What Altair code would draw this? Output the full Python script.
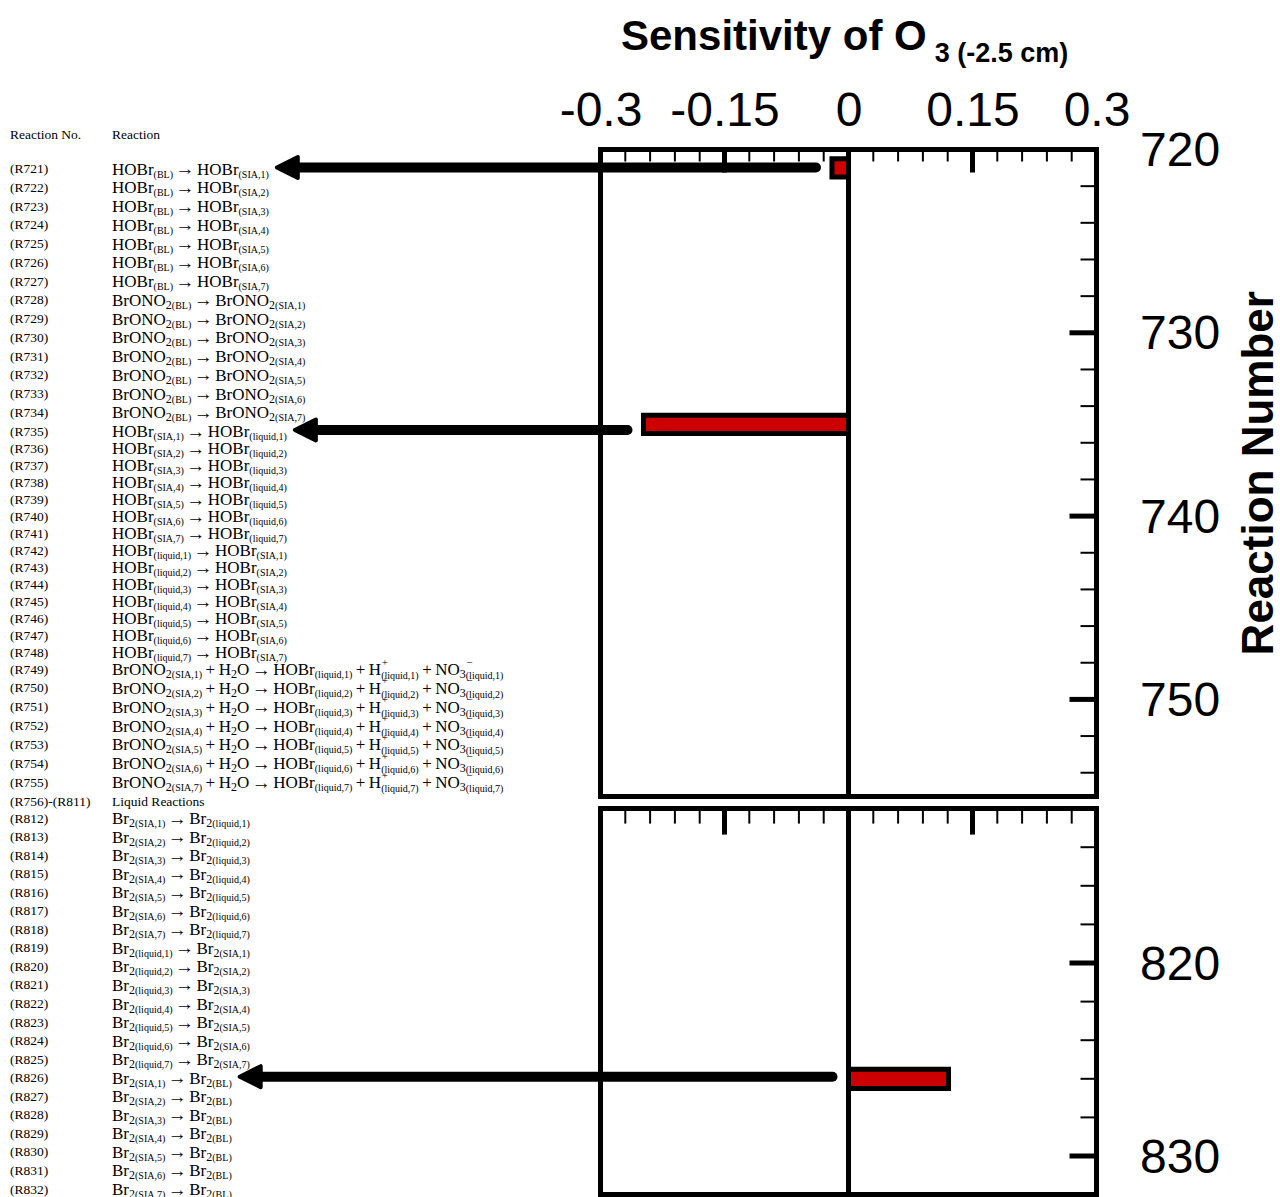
import re
import altair as alt
import pandas as pd

# ---------------- chart values ----------------
reaction_ids = [
    "(R721)", "(R722)", "(R723)", "(R724)", "(R725)", "(R726)", "(R727)",
    "(R728)", "(R729)", "(R730)", "(R731)", "(R732)", "(R733)", "(R734)",
    "(R735)", "(R736)", "(R737)", "(R738)", "(R739)", "(R740)", "(R741)",
    "(R742)", "(R743)", "(R744)", "(R745)", "(R746)", "(R747)", "(R748)",
    "(R749)", "(R750)", "(R751)", "(R752)", "(R753)", "(R754)", "(R755)",
    "(R756)-(R811)",
    "(R812)", "(R813)", "(R814)", "(R815)", "(R816)", "(R817)", "(R818)",
    "(R819)", "(R820)", "(R821)", "(R822)", "(R823)", "(R824)", "(R825)",
    "(R826)", "(R827)", "(R828)", "(R829)", "(R830)", "(R831)", "(R832)",
]
reactions = [
    "HOBr_{(BL)} -> HOBr_{(SIA,1)}",
    "HOBr_{(BL)} -> HOBr_{(SIA,2)}",
    "HOBr_{(BL)} -> HOBr_{(SIA,3)}",
    "HOBr_{(BL)} -> HOBr_{(SIA,4)}",
    "HOBr_{(BL)} -> HOBr_{(SIA,5)}",
    "HOBr_{(BL)} -> HOBr_{(SIA,6)}",
    "HOBr_{(BL)} -> HOBr_{(SIA,7)}",
    "BrONO_{2(BL)} -> BrONO_{2(SIA,1)}",
    "BrONO_{2(BL)} -> BrONO_{2(SIA,2)}",
    "BrONO_{2(BL)} -> BrONO_{2(SIA,3)}",
    "BrONO_{2(BL)} -> BrONO_{2(SIA,4)}",
    "BrONO_{2(BL)} -> BrONO_{2(SIA,5)}",
    "BrONO_{2(BL)} -> BrONO_{2(SIA,6)}",
    "BrONO_{2(BL)} -> BrONO_{2(SIA,7)}",
    "HOBr_{(SIA,1)} -> HOBr_{(liquid,1)}",
    "HOBr_{(SIA,2)} -> HOBr_{(liquid,2)}",
    "HOBr_{(SIA,3)} -> HOBr_{(liquid,3)}",
    "HOBr_{(SIA,4)} -> HOBr_{(liquid,4)}",
    "HOBr_{(SIA,5)} -> HOBr_{(liquid,5)}",
    "HOBr_{(SIA,6)} -> HOBr_{(liquid,6)}",
    "HOBr_{(SIA,7)} -> HOBr_{(liquid,7)}",
    "HOBr_{(liquid,1)} -> HOBr_{(SIA,1)}",
    "HOBr_{(liquid,2)} -> HOBr_{(SIA,2)}",
    "HOBr_{(liquid,3)} -> HOBr_{(SIA,3)}",
    "HOBr_{(liquid,4)} -> HOBr_{(SIA,4)}",
    "HOBr_{(liquid,5)} -> HOBr_{(SIA,5)}",
    "HOBr_{(liquid,6)} -> HOBr_{(SIA,6)}",
    "HOBr_{(liquid,7)} -> HOBr_{(SIA,7)}",
    "BrONO_{2(SIA,1)} + H_{2}O -> HOBr_{(liquid,1)} + H^{+}_{(liquid,1)} + NO_{3}^{-}_{(liquid,1)}",
    "BrONO_{2(SIA,2)} + H_{2}O -> HOBr_{(liquid,2)} + H^{+}_{(liquid,2)} + NO_{3}^{-}_{(liquid,2)}",
    "BrONO_{2(SIA,3)} + H_{2}O -> HOBr_{(liquid,3)} + H^{+}_{(liquid,3)} + NO_{3}^{-}_{(liquid,3)}",
    "BrONO_{2(SIA,4)} + H_{2}O -> HOBr_{(liquid,4)} + H^{+}_{(liquid,4)} + NO_{3}^{-}_{(liquid,4)}",
    "BrONO_{2(SIA,5)} + H_{2}O -> HOBr_{(liquid,5)} + H^{+}_{(liquid,5)} + NO_{3}^{-}_{(liquid,5)}",
    "BrONO_{2(SIA,6)} + H_{2}O -> HOBr_{(liquid,6)} + H^{+}_{(liquid,6)} + NO_{3}^{-}_{(liquid,6)}",
    "BrONO_{2(SIA,7)} + H_{2}O -> HOBr_{(liquid,7)} + H^{+}_{(liquid,7)} + NO_{3}^{-}_{(liquid,7)}",
    "Liquid Reactions",
    "Br_{2(SIA,1)} -> Br_{2(liquid,1)}",
    "Br_{2(SIA,2)} -> Br_{2(liquid,2)}",
    "Br_{2(SIA,3)} -> Br_{2(liquid,3)}",
    "Br_{2(SIA,4)} -> Br_{2(liquid,4)}",
    "Br_{2(SIA,5)} -> Br_{2(liquid,5)}",
    "Br_{2(SIA,6)} -> Br_{2(liquid,6)}",
    "Br_{2(SIA,7)} -> Br_{2(liquid,7)}",
    "Br_{2(liquid,1)} -> Br_{2(SIA,1)}",
    "Br_{2(liquid,2)} -> Br_{2(SIA,2)}",
    "Br_{2(liquid,3)} -> Br_{2(SIA,3)}",
    "Br_{2(liquid,4)} -> Br_{2(SIA,4)}",
    "Br_{2(liquid,5)} -> Br_{2(SIA,5)}",
    "Br_{2(liquid,6)} -> Br_{2(SIA,6)}",
    "Br_{2(liquid,7)} -> Br_{2(SIA,7)}",
    "Br_{2(SIA,1)} -> Br_{2(BL)}",
    "Br_{2(SIA,2)} -> Br_{2(BL)}",
    "Br_{2(SIA,3)} -> Br_{2(BL)}",
    "Br_{2(SIA,4)} -> Br_{2(BL)}",
    "Br_{2(SIA,5)} -> Br_{2(BL)}",
    "Br_{2(SIA,6)} -> Br_{2(BL)}",
    "Br_{2(SIA,7)} -> Br_{2(BL)}",
]
header_texts = ["Reaction No.", "Reaction"]

bar_reaction = [721, 735, 826]
bar_value = [-0.02, -0.248, 0.121]

x_label_values = [-0.3, -0.15, 0, 0.15, 0.3]
x_major_ticks = [-0.15, 0.15]
x_minor_ticks = [-0.27, -0.24, -0.21, -0.18, -0.12, -0.09, -0.06, -0.03,
                 0.03, 0.06, 0.09, 0.12, 0.18, 0.21, 0.24, 0.27]

top_extent = [720, 755.3]
bottom_extent = [812, 832]
top_label_values = [720, 730, 740, 750]
bottom_label_values = [820, 830]
top_major_y = [730, 740, 750]
top_minor_y = [722, 724, 726, 728, 732, 734, 736, 738, 742, 744, 746, 748, 752, 754]
bottom_major_y = [820, 830]
bottom_minor_y = [814, 816, 818, 822, 824, 826, 828]

title_main = "Sensitivity of O"
title_sub = "3 (-2.5 cm)"
y_title = "Reaction Number"

# ---------------- layout / style ----------------
W, H = 1280, 1197
PX_X = [600.5, 1096.5]            # pixel range for x = -0.3 .. 0.3
PX_TOP = [149.5, 699.4]           # pixel range for 720 .. 750
PX_BOT = [963, 1156]              # pixel range for 820 .. 830
ROW_KNOTS = [-2, 0, 14, 28, 34, 35, 36, 56]
ROW_PX = [133, 167.5, 430, 668, 781, 800, 817, 1188]
PPU = (PX_X[1] - PX_X[0]) / (x_label_values[-1] - x_label_values[0])

X_SCALE = alt.Scale(domain=[x_label_values[0], x_label_values[-1]], range=PX_X, nice=False, zero=False)
Y_TOP = alt.Scale(domain=[720, 750], range=PX_TOP, nice=False, zero=False)
Y_BOT = alt.Scale(domain=[820, 830], range=PX_BOT, nice=False, zero=False)
Y_ROW = alt.Scale(domain=ROW_KNOTS, range=ROW_PX, nice=False, zero=False)

SERIF = "Liberation Serif"
SANS = "Liberation Sans"
RED = "#cc0000"

def px_to_x(px):
    return x_label_values[0] + (px - PX_X[0]) / PPU

# Times-like advance widths (per 1000 em)
CW = {' ': 250, '(': 333, ')': 333, ',': 250, '-': 333, '.': 250,
      'A': 722, 'B': 667, 'C': 667, 'D': 722, 'E': 611, 'H': 722, 'I': 333,
      'L': 611, 'N': 722, 'O': 722, 'R': 667, 'S': 556,
      'a': 444, 'c': 444, 'd': 500, 'e': 444, 'i': 278, 'l': 278, 'n': 500,
      'o': 500, 'q': 500, 'r': 333, 's': 389, 't': 278, 'u': 500,
      '+': 564, '\u2212': 564, '\u2192': 1000}

def tw(s, size):
    return sum(CW.get(c, 500) for c in s) * size / 1000.0

SZ = {"main": 17, "arrow": 19, "subd": 12, "subs": 10, "sup": 11, "subq": 10, "label": 13.5}
DY = {"main": 7, "arrow": 7.5, "subd": 10, "subs": 10, "sup": -2.5, "subq": 11, "label": 5.5}
GAP = 3.5
AGAP = 2.5
COL1, COL2 = 10, 112

TOK = re.compile(r"_\{([^}]*)\}|\^\{([^}]*)\}|( -> )|( \+ )|([^_^ ]+)")

def layout(expr, x0):
    segs = []
    x = x0
    pending = None
    for m in TOK.finditer(expr):
        sub, sup, arrow, plus, word = m.groups()
        if sub is not None:
            digits = re.match(r"\d*", sub).group(0)
            rest = sub[len(digits):]
            if pending is not None:
                segs.append(("subq", sub, x))
                x += max(tw(sub, SZ["subq"]), pending)
                pending = None
            else:
                if digits:
                    segs.append(("subd", digits, x))
                    x += tw(digits, SZ["subd"])
                if rest:
                    segs.append(("subs", rest, x))
                    x += tw(rest, SZ["subs"])
        elif sup is not None:
            s = sup.replace("-", "\u2212")
            segs.append(("sup", s, x + 0.5))
            pending = tw(s, SZ["sup"])
        elif arrow is not None:
            x += AGAP
            segs.append(("arrow", "\u2192", x))
            x += tw("\u2192", SZ["arrow"]) + AGAP
        elif plus is not None:
            x += GAP
            segs.append(("main", "+", x))
            x += tw("+", SZ["main"]) + GAP
        else:
            segs.append(("main", word, x))
            x += tw(word, SZ["main"])
    return segs, x

rows = []
row_end = {}
rows.append(dict(kind="label", text=header_texts[0], x=COL1, row=-2))
rows.append(dict(kind="label", text=header_texts[1], x=COL2, row=-2))
for i, (rid, rx) in enumerate(zip(reaction_ids, reactions)):
    rows.append(dict(kind="label", text=rid, x=COL1, row=i))
    if "->" in rx:
        segs, xend = layout(rx, COL2)
        for kind, t, xx in segs:
            rows.append(dict(kind=kind, text=t, x=xx, row=i))
        row_end[rid] = xend
    else:
        rows.append(dict(kind="label", text=rx, x=COL2, row=i))
seg_df = pd.DataFrame(rows)
seg_df["xd"] = seg_df["x"].apply(px_to_x)

def text_layer(kind):
    d = seg_df[seg_df["kind"] == kind][["xd", "row", "text"]]
    return alt.Chart(d).mark_text(
        font=SERIF, fontSize=SZ[kind], dy=DY[kind], align="left",
        baseline="alphabetic", color="black"
    ).encode(
        x=alt.X("xd:Q", scale=X_SCALE, axis=None),
        y=alt.Y("row:Q", scale=Y_ROW, axis=None),
        text="text:N",
    )

text_layers = [text_layer(k) for k in ["label", "main", "arrow", "subd", "subs", "sup", "subq"]]

# ---------------- panels ----------------
def panel_layers(extent, yscale, label_values, major_y, minor_y, top_minor_len, top_major_len, show_x_labels):
    frame_df = pd.DataFrame({"x0": [x_label_values[0]], "x1": [x_label_values[-1]],
                             "y0": [extent[0]], "y1": [extent[1]]})
    yaxis = alt.Axis(orient="right", offset=-(W - PX_X[1]), values=label_values,
                     labelFont=SANS, labelFontSize=48, labelColor="black",
                     labelPadding=43, labelAlign="left", labelBaseline="middle", labelOffset=2,
                     labelFlush=False, labelOverlap=False,
                     domain=False, ticks=False, tickSize=0, grid=False, title=None)
    if show_x_labels:
        xaxis = alt.Axis(orient="top", offset=-PX_TOP[0], values=x_label_values,
                         labelExpr="toString(datum.value)", labelFont=SANS,
                         labelFontSize=48, labelColor="black", labelPadding=24,
                         labelBaseline="alphabetic", labelFlush=False, labelOverlap=False,
                         domain=False, ticks=False, tickSize=0, grid=False, title=None)
        xenc = alt.X("x0:Q", scale=X_SCALE, axis=xaxis)
    else:
        xenc = alt.X("x0:Q", scale=X_SCALE, axis=None)
    frame = alt.Chart(frame_df).mark_rect(
        fillOpacity=0, stroke="black", strokeWidth=5
    ).encode(
        x=xenc, x2="x1:Q",
        y=alt.Y("y0:Q", scale=yscale, axis=yaxis), y2="y1:Q",
    )
    zero = alt.Chart(frame_df).mark_rule(color="black", strokeWidth=5).transform_calculate(
        z="0"
    ).encode(
        x=alt.X("z:Q", scale=X_SCALE, axis=None),
        y=alt.Y("y0:Q", scale=yscale, axis=None), y2="y1:Q",
    )

    def xticks(vals, length, width):
        d = pd.DataFrame({"x": vals, "y": [extent[0]] * len(vals)})
        return alt.Chart(d).mark_rule(color="black", strokeWidth=width, y2Offset=length).encode(
            x=alt.X("x:Q", scale=X_SCALE, axis=None),
            y=alt.Y("y:Q", scale=yscale, axis=None), y2="y:Q",
        )

    def yticks(vals, length, width):
        d = pd.DataFrame({"y": vals, "x": [x_label_values[-1]] * len(vals)})
        return alt.Chart(d).mark_rule(color="black", strokeWidth=width, x2Offset=-length).encode(
            x=alt.X("x:Q", scale=X_SCALE, axis=None), x2="x:Q",
            y=alt.Y("y:Q", scale=yscale, axis=None),
        )

    return [
        xticks(x_minor_ticks, top_minor_len, 2),
        xticks(x_major_ticks, top_major_len, 5),
        yticks(minor_y, 16, 2),
        yticks(major_y, 27, 5),
        zero,
        frame,
    ]

top_layers = panel_layers(top_extent, Y_TOP, top_label_values, top_major_y, top_minor_y, 12, 23, True)
bot_layers = panel_layers(bottom_extent, Y_BOT, bottom_label_values, bottom_major_y, bottom_minor_y, 15, 26, False)

bars_df = pd.DataFrame({"reaction": bar_reaction, "value": bar_value})

def bar_layer(yscale, lo, hi):
    return alt.Chart(bars_df).transform_filter(
        (alt.datum.reaction >= lo) & (alt.datum.reaction <= hi)
    ).transform_calculate(
        y0="datum.reaction - 0.5", y1="datum.reaction + 0.5", z="0"
    ).mark_rect(fill=RED, stroke="black", strokeWidth=5).encode(
        x=alt.X("value:Q", scale=X_SCALE, axis=None), x2="z:Q",
        y=alt.Y("y0:Q", scale=yscale, axis=None), y2="y1:Q",
    )

bars_top = bar_layer(Y_TOP, top_extent[0], top_extent[1])
bars_bot = bar_layer(Y_BOT, bottom_extent[0], bottom_extent[1])

# ---------------- arrows (bar -> table row) ----------------
arr = []
for r, v in zip(bar_reaction, bar_value):
    rid = "(R%d)" % r
    i = reaction_ids.index(rid)
    tip_px = row_end[rid] + 6
    start = min(v, 0) - 16 / PPU
    arr.append(dict(row=i,
                    head=px_to_x(tip_px + 12.5),
                    s0=px_to_x(tip_px + 18),
                    s1=start))
arr_df = pd.DataFrame(arr)

shafts = alt.Chart(arr_df).mark_rule(color="black", strokeWidth=10, strokeCap="round").encode(
    x=alt.X("s0:Q", scale=X_SCALE, axis=None), x2="s1:Q",
    y=alt.Y("row:Q", scale=Y_ROW, axis=None),
)
heads = alt.Chart(arr_df).mark_point(
    shape="M-1,0L1,-1L1,1Z", size=441, filled=True, fill="black", stroke="black",
    strokeWidth=4, strokeJoin="round", opacity=1
).encode(
    x=alt.X("head:Q", scale=X_SCALE, axis=None),
    y=alt.Y("row:Q", scale=Y_ROW, axis=None),
)

# ---------------- titles ----------------
HB = {'S': 667, 'e': 556, 'n': 611, 's': 556, 'i': 278, 't': 333, 'v': 556,
      'y': 556, ' ': 278, 'o': 611, 'f': 333, 'O': 778}
T_SIZE = 42
t_width = sum(HB.get(c, 556) for c in title_main) * T_SIZE / 1000.0
title_df = pd.DataFrame({"t": [title_main]})
sub_df = pd.DataFrame({"t": [title_sub]})
ytitle_df = pd.DataFrame({"t": [y_title]})

title1 = alt.Chart(title_df).mark_text(
    font=SANS, fontSize=T_SIZE, fontWeight="bold", align="left", baseline="alphabetic", color="black"
).encode(x=alt.value(621), y=alt.value(50), text="t:N")
title2 = alt.Chart(sub_df).mark_text(
    font=SANS, fontSize=27, fontWeight="bold", align="left", baseline="alphabetic", color="black"
).encode(x=alt.value(621 + t_width + 8), y=alt.value(62), text="t:N")
title3 = alt.Chart(ytitle_df).mark_text(
    font=SANS, fontSize=44, fontWeight="bold", align="center", baseline="alphabetic",
    angle=270, color="black"
).encode(x=alt.value(1273), y=alt.value((PX_TOP[0] + 797) / 2), text="t:N")

layers = top_layers + bot_layers + [bars_top, bars_bot, shafts, heads] + text_layers + [title1, title2, title3]

chart = alt.layer(*layers).resolve_scale(
    x="independent", y="independent"
).properties(
    width=W, height=H, padding=0, background="white",
    autosize=alt.AutoSizeParams(type="none"),
).configure_view(strokeWidth=0)

chart.save("out.html", embed_options={"renderer": "svg", "actions": False})
